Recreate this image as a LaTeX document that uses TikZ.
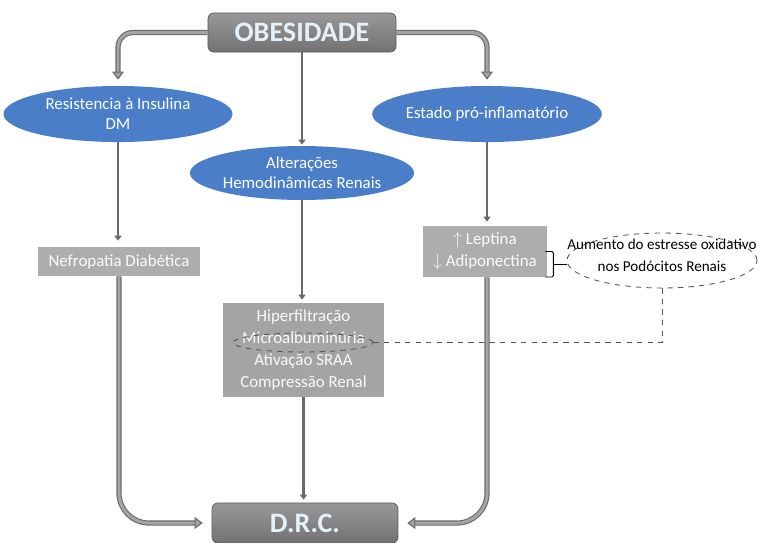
\documentclass[tikz,border=0pt]{standalone}
\usepackage{fontspec}
\setmainfont{Carlito}
\usepackage{xcolor}
\usepackage{tikz}
\usetikzlibrary{shapes,arrows.meta,positioning,calc}
\definecolor{obBlue}{HTML}{4A7EC9}
\definecolor{obGray}{HTML}{868686}
\definecolor{obEdge}{HTML}{5E5E5E}
\definecolor{obBox}{HTML}{ADADAD}
\definecolor{obLine}{HTML}{6A6A6A}
\definecolor{obFill}{HTML}{A4A4A4}
\definecolor{obTitle}{HTML}{E4F1F8}

\begin{document}
\begin{tikzpicture}[x=0.569pt,y=-0.569pt,
    titre/.style = {rectangle,rounded corners=3.4pt,draw=obEdge,line width=0.46pt,
                    top color=obGray!85,bottom color=obGray!85!black,
                    text=obTitle,font=\bfseries\fontsize{16}{18}\selectfont},
    ovale/.style = {ellipse,fill=obBlue,text=white,align=center,inner sep=0pt,
                    font=\fontsize{9.6}{11.4}\selectfont},
    boite/.style = {rectangle,fill=obBox,text=white!94!obBox,align=center,inner sep=0pt,
                    font=\fontsize{9.6}{12.6}\selectfont},
    fleche/.style= {draw=obLine,line width=1.25pt,
                    -{Triangle[length=2.85pt,width=4pt]}},
    grosse/.style= {draw=obLine,double=obFill,double distance=1.7pt,line width=0.63pt,
                    -{Triangle[open,length=4.6pt,width=6.8pt,fill=obFill]}},
    tirets/.style= {draw=obLine!80!black,dashed,line width=0.5pt},
  ]
  \useasboundingbox (0,0) rectangle (758,542);

  % ── Noeuds ────────────────────────────────────────────────────────────────
  \node[titre,minimum width=107pt,minimum height=22.2pt] (obes) at (302,32.5) {OBESIDADE};
  \node[ovale,minimum width=130.3pt,minimum height=31.9pt] (resist) at (118,114)
       {Resistencia à Insulina\\DM};
  \node[ovale,minimum width=125.7pt,minimum height=31.9pt] (inflam) at (487,114)
       {Estado pró-inflamatório};
  \node[ovale,minimum width=125.2pt,minimum height=30.7pt] (hemo) at (302,173)
       {Alterações\\Hemodinâmicas Renais};
  \node[boite,minimum width=92.2pt,minimum height=16.5pt] (nefro) at (119,261.5)
       {Nefropatia Diabética};
  \node[boite,minimum width=70.6pt,minimum height=29pt] (lept) at (485,251.5)
       {$\uparrow$ Leptina\\$\downarrow$ Adiponectina};
  \node[boite,fill=obFill,minimum width=91.6pt,minimum height=53.5pt] (hiper) at (303.5,350)
       {Hiperfiltração\\Microalbuminúria\\Ativação SRAA\\Compressão Renal};
  \node[ellipse,tirets,minimum width=79.7pt,minimum height=10.8pt,inner sep=0pt] (micro)
       at (303,342.5) {};
  \node[ellipse,tirets,minimum width=108.1pt,minimum height=31.3pt,inner sep=0pt] (estrOval)
       at (662,260.5) {};
  \node[align=center,inner sep=0pt,font=\fontsize{8.6}{12.5}\selectfont] (estr) at (662,255)
       {Aumento do estresse oxidativo\\nos Podócitos Renais};
  \node[titre,minimum width=105.8pt,minimum height=22.8pt] (drc) at (305,523) {D.R.C.};

  % ── Liaisons ──────────────────────────────────────────────────────────────
  \draw[grosse,rounded corners=8.5pt,shorten >=3.4pt] (obes.west) -| (resist.north);
  \draw[grosse,rounded corners=8.5pt,shorten >=3.4pt] (obes.east) -| (inflam.north);
  \draw[fleche,shorten >=0.6pt] (obes.south) -- (hemo.north);
  \draw[fleche,shorten >=3.4pt] (resist.south) -- (resist.south |- nefro.north);
  \draw[fleche,shorten >=2.3pt] (inflam.south) -- (inflam.south |- lept.north);
  \draw[fleche,shorten >=1.7pt] (hemo.south) -- (hemo.south |- hiper.north);
  \draw[fleche,shorten >=1.7pt] (hiper.south) -- (hiper.south |- drc.north);
  \draw[grosse,rounded corners=17pt,shorten >=5.1pt] (nefro.south) |- (drc.west);
  \draw[grosse,rounded corners=17pt,shorten >=5.1pt] (inflam.south |- lept.south) |- (drc.east);

  % ── Accolade et renvoi ────────────────────────────────────────────────────
  \draw[black,line width=0.5pt,rounded corners=0.85pt]
    ([xshift=-1.14pt]lept.east) -- ++(8,0) -- ++(0,25.5) -- ++(-8,0);
  \coordinate (brk) at ([xshift=3.4pt,yshift=-7.4pt]lept.east);
  \draw[black,line width=0.5pt] (brk) -- (brk -| estrOval.west);
  \draw[tirets] (micro.east) -| (estrOval.south);

\end{tikzpicture}
\end{document}
